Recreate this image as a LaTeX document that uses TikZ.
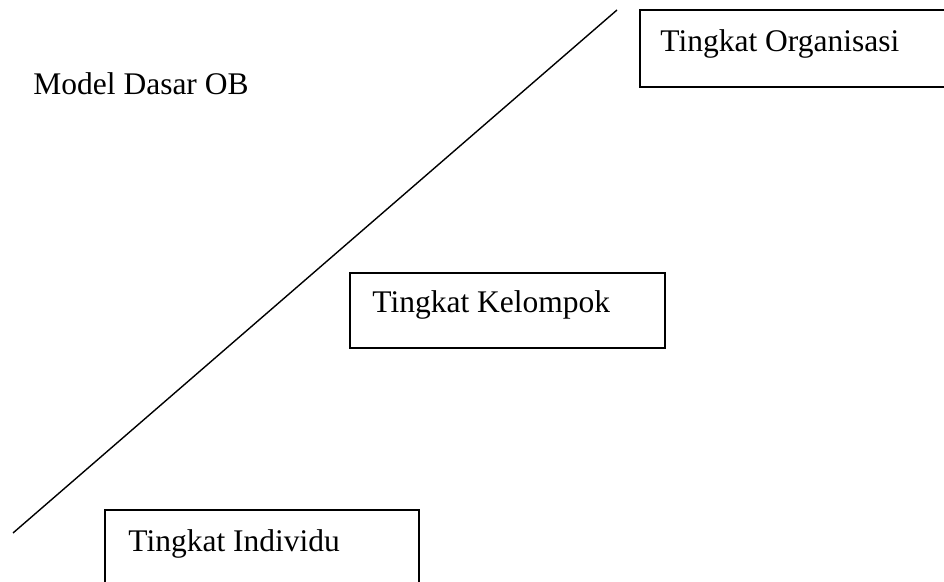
\documentclass[tikz,border=0pt]{standalone}
\usepackage{fontspec}
\setmainfont{Liberation Serif}
\begin{document}
\begin{tikzpicture}[
        x=0.5pt, y=-0.5pt,
        levelbox/.style={rectangle, draw=black, line width=0.7pt, inner sep=0pt},
        leveltext/.style={anchor=base west, inner sep=0pt, font=\fontsize{15.75}{19}\selectfont},
        edge/.style={line width=0.7pt, black}
    ]
        \useasboundingbox (0,0) rectangle (944,582);

        \node[levelbox, minimum width=162pt, minimum height=38.5pt] (org) at (802, 48.5) {};
        \node[levelbox, minimum width=157.5pt, minimum height=37.5pt] (kel) at (507.5, 310.5) {};
        \node[levelbox, minimum width=157pt, minimum height=45pt] (ind) at (262, 555) {};

        \node[leveltext] (orgtext) at (660, 52) {Tingkat Organisasi};
        \node[leveltext] (keltext) at (372, 313) {Tingkat Kelompok};
        \node[leveltext] (indtext) at (128, 552) {Tingkat Individu};
        \node[leveltext] (title) at (33, 95) {Model Dasar OB};

        \coordinate (low) at (13, 533);
        \coordinate (high) at (617, 10);
        \draw[edge] (low) -- (high);
\end{tikzpicture}
\end{document}
